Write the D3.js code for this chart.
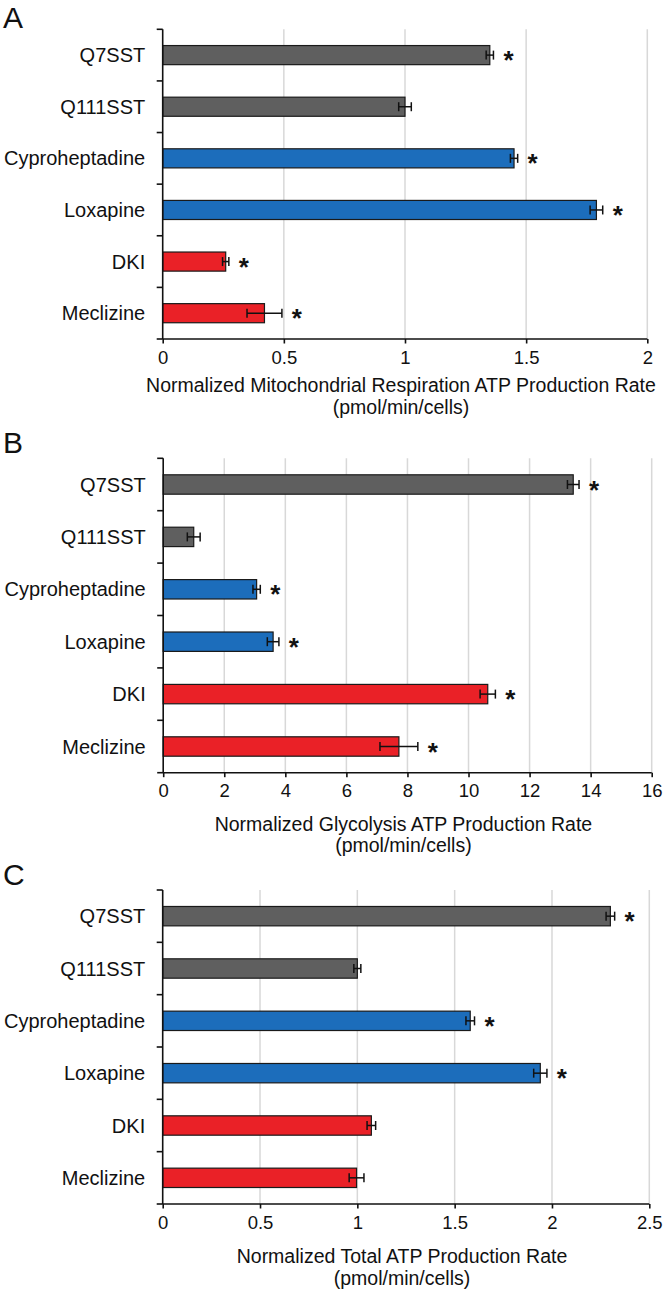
<!DOCTYPE html>
<html><head><meta charset="utf-8">
<script src="https://cdn.jsdelivr.net/npm/d3@7"></script>
<style>
html,body{margin:0;padding:0;background:#fff;}
svg text{font-family:"Liberation Sans",Arial,Helvetica,sans-serif;fill:#111;}
</style></head>
<body>
<svg id="chart" width="665" height="1291"></svg>
<script>
// ---- data ----
const categories = ["Q7SST","Q111SST","Cyproheptadine","Loxapine","DKI","Meclizine"];
const groups = ["control","control","drugA","drugA","drugB","drugB"];

const mitoValues = [1.35, 1.00, 1.45, 1.79, 0.26, 0.42];
const mitoErrors = [0.015, 0.026, 0.015, 0.026, 0.013, 0.072];
const mitoSig    = [true, false, true, true, true, true];
const mitoTicks  = [0, 0.5, 1, 1.5, 2];

const glycoValues = [13.43, 1.0, 3.06, 3.6, 10.63, 7.72];
const glycoErrors = [0.19, 0.21, 0.12, 0.19, 0.25, 0.62];
const glycoSig    = [true, false, true, true, true, true];
const glycoTicks  = [0, 2, 4, 6, 8, 10, 12, 14, 16];

const totalValues = [2.30, 1.0, 1.58, 1.94, 1.072, 0.996];
const totalErrors = [0.022, 0.018, 0.022, 0.034, 0.022, 0.038];
const totalSig    = [true, false, true, true, false, false];
const totalTicks  = [0, 0.5, 1, 1.5, 2, 2.5];

const panelLetters = ["A","B","C"];
const axisTitles = [
  "Normalized Mitochondrial Respiration ATP Production Rate",
  "Normalized Glycolysis ATP Production Rate",
  "Normalized Total ATP Production Rate"
];
const unitLabel = "(pmol/min/cells)";

// ---- styles / layout ----
const colorScale = d3.scaleOrdinal()
  .domain(["control","drugA","drugB"])
  .range(["#5f5f5f","#1c6dbb","#ea2127"]);

const panels = [
  {values:mitoValues, errors:mitoErrors, sig:mitoSig, ticks:mitoTicks,
   top:29.3, bottom:339, left:162.7, right:647.3, letterY:28, titleOff:53},
  {values:glycoValues, errors:glycoErrors, sig:glycoSig, ticks:glycoTicks,
   top:458.3, bottom:772.7, left:163.2, right:651.7, letterY:453, titleOff:58},
  {values:totalValues, errors:totalErrors, sig:totalSig, ticks:totalTicks,
   top:890, bottom:1204, left:162.7, right:649.3, letterY:885, titleOff:59}
];

const svg = d3.select("#chart");

panels.forEach((p, pi) => {
  const g = svg.append("g");
  const x = d3.scaleLinear()
    .domain([p.ticks[0], p.ticks[p.ticks.length-1]])
    .range([p.left, p.right]);
  const y = d3.scaleBand()
    .domain(categories)
    .range([p.top, p.bottom])
    .paddingInner(0).paddingOuter(0);
  const bh = y.bandwidth() * 0.37;

  // panel letter
  g.append("text").attr("x", 3).attr("y", p.letterY)
    .attr("font-size", 30).text(panelLetters[pi]);

  // gridlines
  g.append("g").selectAll("line")
    .data(p.ticks.slice(1))
    .join("line")
    .attr("x1", d => x(d)).attr("x2", d => x(d))
    .attr("y1", p.top).attr("y2", p.bottom)
    .attr("stroke", "#d8d8d8").attr("stroke-width", 1.5);

  // bars
  g.append("g").selectAll("rect")
    .data(categories)
    .join("rect")
    .attr("x", x(0))
    .attr("y", d => y(d) + y.bandwidth()/2 - bh/2)
    .attr("width", (d,i) => x(p.values[i]) - x(0))
    .attr("height", bh)
    .attr("fill", (d,i) => colorScale(groups[i]))
    .attr("stroke", "#1a1a1a").attr("stroke-width", 1.2);

  // error bars
  const eb = g.append("g").attr("stroke", "#111").attr("stroke-width", 1.5);
  categories.forEach((c, i) => {
    const cy = y(c) + y.bandwidth()/2;
    const lo = p.values[i] - p.errors[i], hi = p.values[i] + p.errors[i];
    eb.append("line").attr("x1", x(lo)).attr("x2", x(hi)).attr("y1", cy).attr("y2", cy);
    eb.append("line").attr("x1", x(lo)).attr("x2", x(lo)).attr("y1", cy-4.5).attr("y2", cy+4.5);
    eb.append("line").attr("x1", x(hi)).attr("x2", x(hi)).attr("y1", cy-4.5).attr("y2", cy+4.5);
    if (p.sig[i]) {
      g.append("text").attr("x", x(hi) + 15).attr("y", cy + 14)
        .attr("text-anchor", "middle").attr("font-size", 26).attr("font-weight", "bold")
        .text("*");
    }
  });

  // y axis
  const ya = g.append("g").attr("stroke", "#111").attr("stroke-width", 1.6);
  ya.append("line").attr("x1", p.left).attr("x2", p.left).attr("y1", p.top).attr("y2", p.bottom);
  const bounds = categories.map(c => y(c)).concat([p.bottom]);
  ya.selectAll(".yt").data(bounds).join("line")
    .attr("x1", p.left - 6).attr("x2", p.left).attr("y1", d => d).attr("y2", d => d);
  g.append("g").selectAll("text").data(categories).join("text")
    .attr("x", p.left - 17.5)
    .attr("y", d => y(d) + y.bandwidth()/2 + 7)
    .attr("text-anchor", "end").attr("font-size", 20)
    .text(d => d);

  // x axis
  const xa = g.append("g").attr("transform", `translate(0,${p.bottom})`)
    .call(d3.axisBottom(x).tickValues(p.ticks).tickSize(4.5).tickPadding(7)
      .tickFormat(d3.format("~g")));
  xa.select(".domain").attr("stroke", "#111").attr("stroke-width", 1.6)
    .attr("d", `M${p.left},0H${p.right}`);
  xa.selectAll(".tick line").attr("stroke", "#111").attr("stroke-width", 1.6);
  xa.selectAll(".tick text").attr("font-size", 18.5).attr("fill", "#111")
    .attr("font-family", "Liberation Sans, Arial, sans-serif");

  // axis title
  const cx = (p.left + p.right) / 2 - 4;
  g.append("text").attr("x", cx).attr("y", p.bottom + p.titleOff)
    .attr("text-anchor", "middle").attr("font-size", 19.5).text(axisTitles[pi]);
  g.append("text").attr("x", cx).attr("y", p.bottom + p.titleOff + 21.5)
    .attr("text-anchor", "middle").attr("font-size", 19.5).text(unitLabel);
});
</script>
</body></html>
